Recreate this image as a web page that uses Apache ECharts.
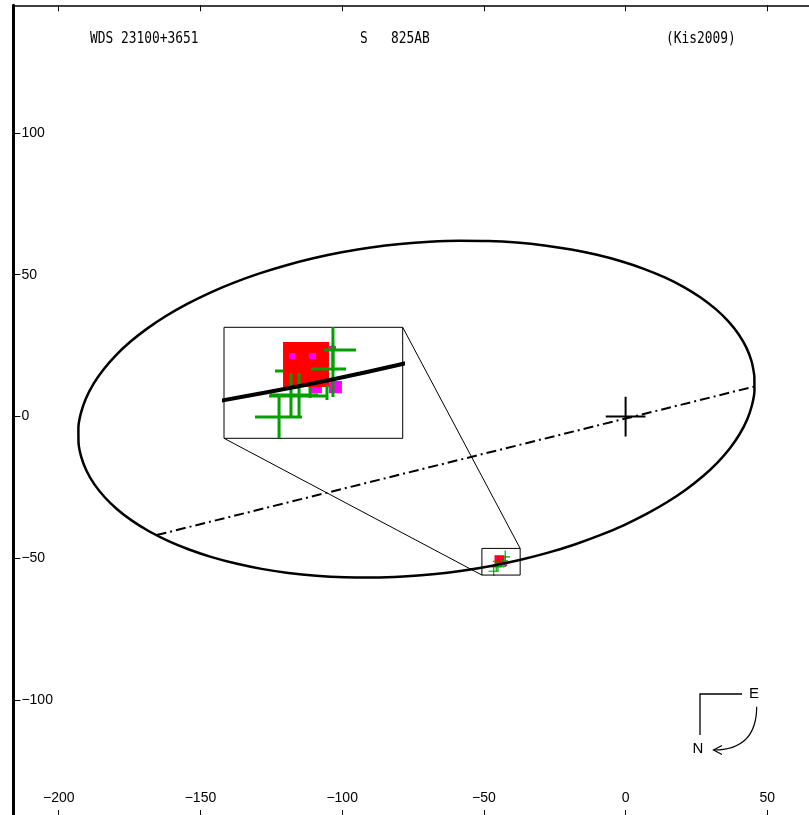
<!DOCTYPE html>
<html><head><meta charset="utf-8">
<script src="https://cdn.jsdelivr.net/npm/echarts@6/dist/echarts.min.js"></script>
<style>html,body{margin:0;padding:0;background:#fff;}#c{width:809px;height:815px;}</style>
</head><body><div id="c"></div>
<script>
// ---- header texts ----
const titleTexts = ['WDS 23100+3651', 'S   825AB', '(Kis2009)'];
// ---- axis tick values ----
const xTicks = [-200, -150, -100, -50, 0, 50];
const yTicks = [-100, -50, 0, 50, 100];
// ---- apparent orbit (points read along the ellipse) ----
const orbitX = [45.42, 44.47, 42.61, 39.87, 36.26, 31.82, 26.58, 20.56, 13.83, 6.44, -1.57, -10.13, -19.17, -28.62, -38.42, -48.49, -58.76, -69.14,
  -79.55, -89.92, -100.16, -110.21, -119.98, -129.40, -138.39, -146.89, -154.83, -162.17, -168.83, -174.76, -179.93, -184.28, -187.80, -190.45, -192.21, -193.07,
  -193.02, -192.07, -190.21, -187.47, -183.86, -179.42, -174.18, -168.16, -161.44, -154.04, -146.03, -137.47, -128.43, -118.98, -109.18, -99.11, -88.84, -78.46,
  -68.05, -57.68, -47.44, -37.39, -27.62, -18.20, -9.21, -0.71, 7.23, 14.57, 21.23, 27.16, 32.33, 36.68, 40.20, 42.85, 44.61, 45.47, 45.42];
const orbitY = [14.37, 19.40, 24.30, 29.04, 33.58, 37.88, 41.91, 45.64, 49.04, 52.09, 54.77, 57.04, 58.91, 60.34, 61.33, 61.88, 61.98, 61.62,
  60.82, 59.57, 57.89, 55.79, 53.28, 50.39, 47.13, 43.54, 39.63, 35.44, 31.00, 26.35, 21.51, 16.53, 11.45, 6.30, 1.11, -4.06,
  -9.17, -14.20, -19.10, -23.84, -28.38, -32.68, -36.71, -40.44, -43.84, -46.89, -49.57, -51.84, -53.71, -55.14, -56.13, -56.68, -56.78, -56.42,
  -55.62, -54.37, -52.69, -50.59, -48.08, -45.19, -41.93, -38.34, -34.43, -30.24, -25.80, -21.15, -16.31, -11.33, -6.25, -1.10, 4.09, 9.26, 14.37];
// ---- line of nodes ----
const nodeX = [-165.5, 45.5];
const nodeY = [-41.8, 10.6];
// ---- primary star cross: x, y, half size ----
const primaryX = [0], primaryY = [0], primaryHalf = [7];
// ---- red observation square ----
const redX1 = [-46.24], redX2 = [-42.77], redY1 = [-52.29], redY2 = [-48.89];
// ---- magenta observation squares ----
const magX1 = [-45.79, -44.28, -42.77, -44.28, -42.77];
const magX2 = [-45.34, -43.75, -42.24, -43.30, -41.79];
const magY1 = [-50.17, -50.17, -49.57, -52.75, -52.75];
const magY2 = [-49.72, -49.72, -49.19, -52.29, -51.84];
// ---- green measures with error bars ----
const crossX   = [-46.54, -45.03, -45.64, -42.47, -42.47, -46.55, -42.92, -44.20];
const crossY   = [-54.55, -52.97, -52.89, -50.93, -49.49, -51.08, -52.70, -52.70];
const crossXLo = [-48.36, -47.30, -47.22, -44.13, -43.15, -46.85, -42.92, -44.20];
const crossXHi = [-44.81, -42.92, -43.60, -41.48, -40.73, -46.24, -42.92, -44.20];
const crossYLo = [-56.14, -54.55, -54.55, -53.04, -51.10, -51.08, -53.27, -53.12];
const crossYHi = [-52.97, -51.23, -51.23, -49.12, -47.20, -51.08, -52.14, -52.29];
// ---- zoom box (main plot) and inset view ranges ----
const boxX = [-50.7, -37.2], boxY = [-55.9, -46.5];
const insetX = [-50.7, -37.2], insetY = [-56.16, -47.78];

const chart = echarts.init(document.getElementById('c'), null, {renderer: 'canvas'});
const fmt = v => String(v).replace('-', '\u2212');
const labelFont = {fontFamily: 'Liberation Sans', fontSize: 14, color: '#000'};

const orbitData = orbitX.map((x, i) => [x, orbitY[i]]);
const nodeData = nodeX.map((x, i) => [x, nodeY[i]]);
const crossData = crossX.map((x, i) => [x, crossY[i], crossXLo[i], crossXHi[i], crossYLo[i], crossYHi[i]]);
const primaryData = primaryX.map((x, i) => [x, primaryY[i], x - primaryHalf[i], x + primaryHalf[i], primaryY[i] - primaryHalf[i], primaryY[i] + primaryHalf[i]]);
const redData = redX1.map((x, i) => [x, redY1[i], redX2[i], redY2[i]]);
const magData = magX1.map((x, i) => [x, magY1[i], magX2[i], magY2[i]]);
const boxData = [[boxX[0], boxY[0], boxX[1], boxY[1]]];

function crossItem(lw, color) {
  return function (params, api) {
    const x = api.value(0), y = api.value(1);
    const a = api.coord([api.value(2), y]), b = api.coord([api.value(3), y]);
    const c = api.coord([x, api.value(4)]), d = api.coord([x, api.value(5)]);
    return {type: 'group', children: [
      {type: 'line', shape: {x1: a[0], y1: a[1], x2: b[0], y2: b[1]}, style: {stroke: color, lineWidth: lw}},
      {type: 'line', shape: {x1: c[0], y1: c[1], x2: d[0], y2: d[1]}, style: {stroke: color, lineWidth: lw}}
    ]};
  };
}
function rectItem(color, fill, lw) {
  return function (params, api) {
    const p1 = api.coord([api.value(0), api.value(1)]), p2 = api.coord([api.value(2), api.value(3)]);
    return {type: 'rect', shape: {x: Math.min(p1[0], p2[0]), y: Math.min(p1[1], p2[1]),
      width: Math.abs(p2[0] - p1[0]), height: Math.abs(p2[1] - p1[1])},
      style: fill ? {fill: color} : {fill: 'none', stroke: color, lineWidth: lw}};
  };
}
function crossSeries(data, xi, yi, lw, color) {
  return {type: 'custom', xAxisIndex: xi, yAxisIndex: yi, clip: true, data: data,
    encode: {x: [0, 2, 3], y: [1, 4, 5]}, renderItem: crossItem(lw, color), silent: true};
}
function rectSeries(data, xi, yi, color, fill, lw) {
  return {type: 'custom', xAxisIndex: xi, yAxisIndex: yi, clip: true, data: data,
    encode: {x: [0, 2], y: [1, 3]}, renderItem: rectItem(color, fill, lw), silent: true};
}

const INSET = {left: 224, top: 327.3, width: 178.7, height: 111};

const option = {
  animation: false,
  backgroundColor: '#fff',
  grid: [
    {left: 13.4, top: 5.3, right: -15, bottom: 0, outerBoundsMode: 'none', containLabel: false},
    {left: INSET.left, top: INSET.top, width: INSET.width, height: INSET.height, show: true,
     borderColor: '#000', borderWidth: 1, backgroundColor: '#fff', outerBoundsMode: 'none', containLabel: false}
  ],
  xAxis: [
    {type: 'value', gridIndex: 0, position: 'bottom', min: -216, max: 70,
     axisLine: {show: false, onZero: false}, splitLine: {show: false},
     axisTick: {show: true, inside: true, length: 5, customValues: xTicks, lineStyle: {color: '#000', width: 1}},
     axisLabel: {show: true, inside: true, margin: 10, customValues: xTicks, formatter: fmt, ...labelFont}},
    {type: 'value', gridIndex: 0, position: 'top', min: -216, max: 70,
     axisLine: {show: true, onZero: false, lineStyle: {color: '#000', width: 1.7}}, splitLine: {show: false},
     axisTick: {show: true, inside: true, length: 6, customValues: xTicks, lineStyle: {color: '#000', width: 1}},
     axisLabel: {show: false}},
    {type: 'value', gridIndex: 1, min: insetX[0], max: insetX[1], show: false}
  ],
  yAxis: [
    {type: 'value', gridIndex: 0, position: 'left', min: -140.5, max: 145,
     axisLine: {show: true, onZero: false, lineStyle: {color: '#000', width: 3}}, splitLine: {show: false},
     axisTick: {show: true, inside: true, length: 7, customValues: yTicks, lineStyle: {color: '#000', width: 1}},
     axisLabel: {show: true, inside: true, margin: 8, customValues: yTicks, formatter: fmt, ...labelFont}},
    {type: 'value', gridIndex: 1, min: insetY[0], max: insetY[1], show: false}
  ],
  series: [
    // main plot
    rectSeries(redData, 0, 0, '#ff0000', true),
    rectSeries(magData, 0, 0, '#ff00ff', true),
    crossSeries(crossData, 0, 0, 1.2, '#00a000'),
    {type: 'line', xAxisIndex: 0, yAxisIndex: 0, data: orbitData, smooth: 0.3, symbol: 'none',
     lineStyle: {color: '#000', width: 2.5}, silent: true},
    {type: 'line', xAxisIndex: 0, yAxisIndex: 0, data: nodeData, symbol: 'none',
     lineStyle: {color: '#000', width: 2, type: [10, 4, 2, 4]}, silent: true},
    crossSeries(primaryData, 0, 0, 2, '#000'),
    rectSeries(boxData, 0, 0, '#000', false, 1),
    // inset
    rectSeries(redData, 2, 1, '#ff0000', true),
    rectSeries(magData, 2, 1, '#ff00ff', true),
    crossSeries(crossData, 2, 1, 3, '#00a000'),
    {type: 'line', xAxisIndex: 2, yAxisIndex: 1, data: orbitData, smooth: 0.3, symbol: 'none', clip: true,
     lineStyle: {color: '#000', width: 4}, silent: true}
  ]
};
chart.setOption(option);

// connectors from inset to zoom box, header texts and orientation compass
const boxTR = chart.convertToPixel({xAxisIndex: 0, yAxisIndex: 0}, [boxX[1], boxY[1]]);
const boxBL = chart.convertToPixel({xAxisIndex: 0, yAxisIndex: 0}, [boxX[0], boxY[0]]);
const headFont = {fontFamily: 'DejaVu Sans Mono', fontSize: 16, fill: '#000', align: 'left', verticalAlign: 'middle'};
chart.setOption({
  graphic: [
    {type: 'line', shape: {x1: INSET.left + INSET.width, y1: INSET.top, x2: boxTR[0], y2: boxTR[1]}, style: {stroke: '#000', lineWidth: 1}, z: 10},
    {type: 'line', shape: {x1: INSET.left, y1: INSET.top + INSET.height, x2: boxBL[0], y2: boxBL[1]}, style: {stroke: '#000', lineWidth: 1}, z: 10},
    {type: 'text', x: 90, y: 38.5, scaleX: 0.805, style: {text: titleTexts[0], ...headFont}},
    {type: 'text', x: 360, y: 38.5, scaleX: 0.805, style: {text: titleTexts[1], ...headFont}},
    {type: 'text', x: 666, y: 38.5, scaleX: 0.805, style: {text: titleTexts[2], ...headFont}},
    {type: 'polyline', shape: {points: [[742, 694], [700, 694], [700, 735]]}, style: {stroke: '#000', lineWidth: 1.3, fill: 'none'}},
    {type: 'bezierCurve', shape: {x1: 756.7, y1: 706.7, x2: 713.5, y2: 750, cpx1: 756.5, cpy1: 750}, style: {stroke: '#000', lineWidth: 1.2, fill: 'none'}},
    {type: 'polyline', shape: {points: [[722, 745.5], [713.5, 750], [722, 754.5]]}, style: {stroke: '#000', lineWidth: 1.2, fill: 'none'}},
    {type: 'text', x: 754, y: 694, style: {text: 'E', fontFamily: 'Liberation Sans', fontSize: 15, fill: '#000', align: 'center', verticalAlign: 'middle'}},
    {type: 'text', x: 698, y: 749, style: {text: 'N', fontFamily: 'Liberation Sans', fontSize: 15, fill: '#000', align: 'center', verticalAlign: 'middle'}}
  ]
});
</script>
</body></html>
